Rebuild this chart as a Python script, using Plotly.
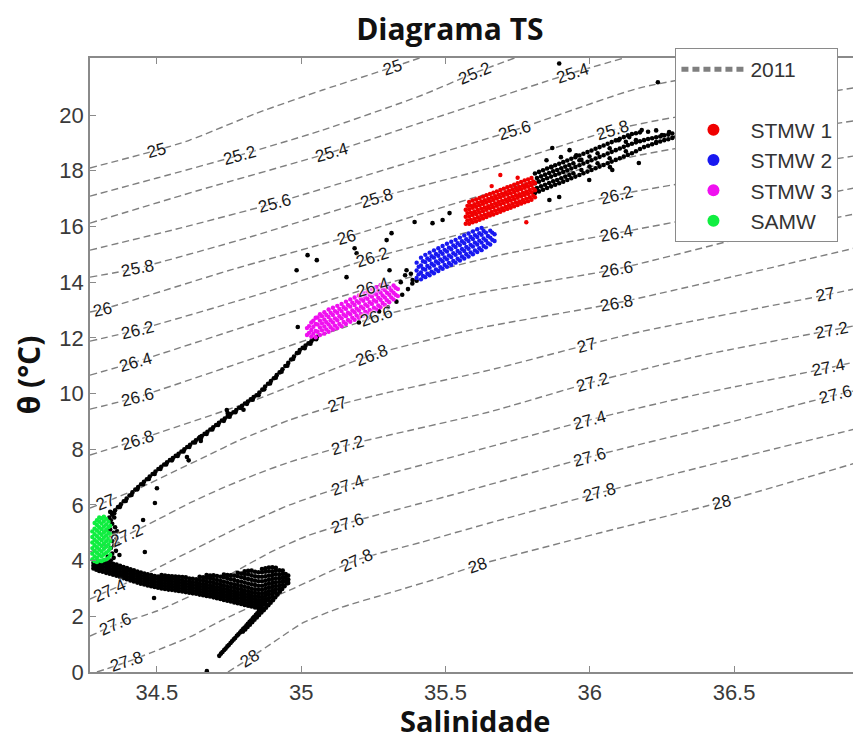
import math
import plotly.graph_objects as go

# ---------------- axes ----------------
x_range = [34.268, 36.933]
y_range = [0.0, 22.05]
x_tickvals = [34.5, 35.0, 35.5, 36.0, 36.5]
x_ticktext = ["34.5", "35", "35.5", "36", "36.5"]
y_tickvals = [0, 2, 4, 6, 8, 10, 12, 14, 16, 18, 20]

# ---------------- isopycnals (S, T) ----------------
iso_25_0 = ([34.268, 34.5, 34.614, 34.846, 35.074, 35.317, 35.410],
            [18.10, 18.74, 19.10, 20.07, 20.90, 21.72, 22.05])
iso_25_2 = ([34.268, 34.5, 34.787, 35.074, 35.420, 35.600, 35.739],
            [17.09, 17.74, 18.56, 19.46, 20.72, 21.51, 22.05])
iso_25_4 = ([34.268, 34.649, 35.106, 35.514, 35.939, 36.119],
            [16.12, 17.31, 18.67, 20.07, 21.51, 22.05])
iso_25_6 = ([34.268, 34.580, 34.908, 35.341, 35.739, 36.171, 36.517, 36.829],
            [15.15, 15.94, 16.84, 18.20, 19.46, 20.97, 21.62, 22.05])
iso_25_8 = ([34.268, 34.431, 34.822, 35.261, 35.687, 36.078, 36.240, 36.933],
            [14.18, 14.50, 15.62, 17.02, 18.20, 19.46, 19.82, 21.01])
iso_26_0 = ([34.268, 34.313, 34.753, 35.157, 35.618, 36.171, 36.933],
            [12.93, 13.03, 14.43, 15.62, 17.09, 18.56, 19.82])
iso_26_2 = ([34.268, 34.431, 34.822, 35.247, 35.687, 36.092, 36.933],
            [11.88, 12.28, 13.46, 14.87, 16.09, 17.13, 18.56])
iso_26_4 = ([34.268, 34.424, 34.822, 35.247, 35.687, 36.092, 36.933],
            [10.66, 11.13, 12.46, 13.82, 14.97, 15.76, 17.41])
iso_26_6 = ([34.268, 34.431, 34.787, 35.261, 35.593, 36.092, 36.611, 36.933],
            [9.44, 9.87, 11.10, 12.75, 13.57, 14.47, 15.80, 16.48])
iso_26_8 = ([34.268, 34.431, 34.822, 35.244, 35.618, 36.092, 36.933],
            [7.79, 8.33, 9.70, 11.38, 12.35, 13.25, 15.26])
iso_27_0 = ([34.268, 34.320, 34.441, 34.555, 34.673, 34.787, 34.960, 35.126, 35.306,
             35.652, 35.988, 36.171, 36.818, 36.933],
            [5.89, 6.10, 6.61, 7.18, 7.76, 8.33, 9.05, 9.59, 10.05,
             10.84, 11.74, 12.21, 13.54, 13.79])
iso_27_2 = ([34.268, 34.396, 34.5, 34.614, 34.728, 34.846, 34.960, 35.161, 35.306,
             35.652, 36.009, 36.379, 36.839, 36.933],
            [4.31, 4.92, 5.46, 6.07, 6.61, 7.11, 7.54, 8.15, 8.51,
             9.34, 10.41, 11.35, 12.28, 12.46])
iso_27_4 = ([34.268, 34.337, 34.441, 34.555, 34.673, 34.787, 34.960, 35.161, 35.548,
             35.998, 36.379, 36.829, 36.933],
            [2.62, 2.94, 3.41, 4.02, 4.63, 5.21, 6.00, 6.71, 7.79,
             9.05, 9.98, 10.92, 11.17])
iso_27_6 = ([34.268, 34.355, 34.5, 34.673, 34.787, 34.901, 35.019, 35.161, 35.548,
             35.998, 36.448, 36.853, 36.933],
            [1.29, 1.69, 2.19, 3.02, 3.70, 4.34, 4.88, 5.35, 6.43,
             7.72, 8.87, 9.95, 10.13])
iso_27_8 = ([34.292, 34.396, 34.476, 34.614, 34.728, 34.846, 34.960, 35.192, 35.420,
             35.652, 36.033, 36.483, 36.933],
            [0.0, 0.36, 0.68, 1.26, 1.87, 2.44, 2.94, 4.02, 4.67,
             5.35, 6.43, 7.61, 8.76])
iso_28_0 = ([34.746, 34.822, 34.915, 35.005, 35.133, 35.306, 35.479, 35.611, 36.033,
             36.455, 36.933],
            [0.0, 0.50, 1.15, 1.76, 2.30, 2.84, 3.38, 3.84, 4.99, 6.10, 7.54])

iso_levels = [25.0, 25.2, 25.4, 25.6, 25.8, 26.0, 26.2, 26.4, 26.6, 26.8,
              27.0, 27.2, 27.4, 27.6, 27.8, 28.0]

# contour labels
label_text = ["25", "25", "25.2", "25.2", "25.4", "25.4", "25.6", "25.6",
              "25.8", "25.8", "25.8", "26", "26", "26.2", "26.2", "26.2",
              "26.4", "26.4", "26.4", "26.6", "26.6", "26.6", "26.8", "26.8", "26.8",
              "27", "27", "27", "27", "27.2", "27.2", "27.2", "27.2",
              "27.4", "27.4", "27.4", "27.4", "27.6", "27.6", "27.6", "27.6",
              "27.8", "27.8", "27.8", "28", "28", "28"]
label_S = [34.5, 35.317, 34.787, 35.600, 35.106, 35.939, 34.908, 35.739,
           34.431, 35.261, 36.078, 34.313, 35.157, 34.431, 35.247, 36.092,
           34.424, 35.247, 36.092, 34.431, 35.261, 36.092, 34.431, 35.244, 36.092,
           34.320, 35.126, 35.988, 36.818, 34.396, 35.161, 36.009, 36.839,
           34.337, 35.161, 35.998, 36.829, 34.355, 35.161, 35.998, 36.853,
           34.396, 35.192, 36.033, 34.822, 35.611, 36.455]
label_T = [18.74, 21.72, 18.56, 21.51, 18.67, 21.51, 16.84, 19.46,
           14.50, 17.02, 19.46, 13.03, 15.62, 12.28, 14.87, 17.13,
           11.13, 13.82, 15.76, 9.87, 12.75, 14.47, 8.33, 11.38, 13.25,
           6.10, 9.59, 11.74, 13.54, 4.92, 8.15, 10.41, 12.28,
           2.94, 6.71, 9.05, 10.92, 1.69, 5.35, 7.72, 9.95,
           0.36, 4.02, 6.43, 0.50, 3.84, 6.10]

# ---------------- black observations ----------------
deep_S = [34.716, 34.722, 34.727, 34.733, 34.738, 34.744, 34.749, 34.755, 34.760, 34.766,
          34.771, 34.777, 34.782, 34.788, 34.793, 34.799, 34.804, 34.810, 34.815, 34.821,
          34.826, 34.832, 34.837, 34.843, 34.848, 34.853, 34.858]
deep_T = [0.58, 0.66, 0.72, 0.79, 0.84, 0.92, 0.97, 1.04, 1.10, 1.17,
          1.22, 1.30, 1.35, 1.42, 1.48, 1.55, 1.60, 1.67, 1.73, 1.80,
          1.85, 1.93, 1.98, 2.05, 2.11, 2.17, 2.23]
deep2_S = [34.798, 34.806, 34.814, 34.822, 34.830, 34.838, 34.846, 34.854, 34.862, 34.870,
           34.878, 34.886, 34.894, 34.902, 34.910, 34.918, 34.926, 34.934, 34.942, 34.950]
deep2_T = [1.45, 1.53, 1.62, 1.70, 1.79, 1.88, 1.96, 2.05, 2.14, 2.22,
           2.31, 2.40, 2.49, 2.58, 2.68, 2.78, 2.88, 2.98, 3.08, 3.18]

band_cols = [
    (34.280, [3.72, 3.82, 3.92]),
    (34.290, [3.67, 3.77, 3.87, 3.97]),
    (34.300, [3.63, 3.73, 3.83, 3.93]),
    (34.312, [3.60, 3.70, 3.80, 3.90]),
    (34.324, [3.56, 3.66, 3.76, 3.86, 3.96]),
    (34.336, [3.53, 3.63, 3.73, 3.83, 3.93]),
    (34.348, [3.49, 3.59, 3.69, 3.79, 3.89]),
    (34.360, [3.46, 3.56, 3.66, 3.76, 3.86]),
    (34.372, [3.41, 3.51, 3.61, 3.71, 3.81]),
    (34.384, [3.37, 3.47, 3.57, 3.67, 3.77]),
    (34.396, [3.33, 3.43, 3.53, 3.63, 3.73]),
    (34.408, [3.29, 3.39, 3.49, 3.59, 3.69]),
    (34.420, [3.25, 3.35, 3.45, 3.55, 3.65]),
    (34.432, [3.21, 3.31, 3.41, 3.51, 3.61]),
    (34.444, [3.17, 3.27, 3.37, 3.47, 3.57]),
    (34.456, [3.14, 3.24, 3.34, 3.44, 3.54]),
    (34.468, [3.11, 3.21, 3.31, 3.41, 3.51]),
    (34.480, [3.08, 3.18, 3.28, 3.38, 3.48]),
    (34.492, [3.05, 3.15, 3.25, 3.35, 3.45]),
    (34.504, [3.03, 3.13, 3.23, 3.33, 3.43]),
    (34.516, [3.00, 3.10, 3.20, 3.30, 3.40, 3.48]),
    (34.528, [2.98, 3.08, 3.18, 3.28, 3.38, 3.46]),
    (34.540, [2.96, 3.06, 3.16, 3.26, 3.36, 3.45]),
    (34.552, [2.95, 3.05, 3.15, 3.25, 3.35, 3.44]),
    (34.564, [2.93, 3.03, 3.13, 3.23, 3.33, 3.43]),
    (34.576, [2.91, 3.01, 3.11, 3.21, 3.31, 3.42]),
    (34.588, [2.89, 2.99, 3.09, 3.19, 3.29, 3.41]),
    (34.600, [2.87, 2.97, 3.07, 3.17, 3.27, 3.40]),
    (34.612, [2.85, 2.95, 3.05, 3.15, 3.25, 3.36]),
    (34.624, [2.83, 2.93, 3.03, 3.13, 3.23, 3.35]),
    (34.636, [2.81, 2.91, 3.01, 3.11, 3.21, 3.33]),
    (34.648, [2.78, 2.88, 2.98, 3.08, 3.18, 3.30, 3.42]),
    (34.660, [2.76, 2.86, 2.96, 3.06, 3.16, 3.28, 3.40]),
    (34.672, [2.73, 2.83, 2.93, 3.03, 3.13, 3.25, 3.38, 3.48]),
    (34.684, [2.71, 2.81, 2.91, 3.01, 3.11, 3.23, 3.36, 3.46]),
    (34.696, [2.68, 2.78, 2.88, 2.98, 3.08, 3.20, 3.34, 3.47]),
    (34.708, [2.65, 2.75, 2.85, 2.95, 3.05, 3.17, 3.30, 3.45]),
    (34.720, [2.62, 2.72, 2.82, 2.92, 3.02, 3.14, 3.27, 3.42]),
    (34.732, [2.59, 2.69, 2.79, 2.89, 2.99, 3.11, 3.24, 3.40, 3.50]),
    (34.744, [2.56, 2.66, 2.76, 2.86, 2.96, 3.08, 3.21, 3.36, 3.48]),
    (34.756, [2.53, 2.63, 2.73, 2.83, 2.93, 3.05, 3.18, 3.33, 3.47]),
    (34.768, [2.50, 2.60, 2.70, 2.80, 2.90, 3.02, 3.15, 3.30, 3.46]),
    (34.780, [2.47, 2.57, 2.67, 2.77, 2.87, 2.99, 3.12, 3.27, 3.44, 3.56]),
    (34.792, [2.44, 2.54, 2.64, 2.74, 2.84, 2.96, 3.09, 3.24, 3.40, 3.54]),
    (34.804, [2.41, 2.51, 2.61, 2.71, 2.81, 2.93, 3.06, 3.21, 3.37, 3.52, 3.62]),
    (34.816, [2.38, 2.48, 2.58, 2.68, 2.78, 2.90, 3.03, 3.18, 3.34, 3.50, 3.63]),
    (34.828, [2.35, 2.45, 2.55, 2.65, 2.75, 2.87, 3.00, 3.15, 3.31, 3.47, 3.64]),
    (34.840, [2.32, 2.42, 2.52, 2.62, 2.72, 2.84, 2.97, 3.12, 3.28, 3.44, 3.60]),
    (34.852, [2.28, 2.38, 2.48, 2.58, 2.70, 2.82, 2.95, 3.10, 3.26, 3.42, 3.58]),
    (34.864, [2.30, 2.40, 2.50, 2.60, 2.70, 2.82, 2.95, 3.10, 3.26, 3.42, 3.58, 3.70]),
    (34.876, [2.42, 2.52, 2.62, 2.74, 2.86, 2.99, 3.13, 3.28, 3.44, 3.60, 3.72]),
    (34.888, [2.56, 2.66, 2.78, 2.90, 3.03, 3.17, 3.31, 3.46, 3.62, 3.75]),
    (34.900, [2.70, 2.82, 2.94, 3.07, 3.20, 3.34, 3.48, 3.62, 3.76]),
    (34.912, [2.84, 2.96, 3.09, 3.22, 3.36, 3.50, 3.64, 3.74]),
    (34.924, [2.98, 3.10, 3.23, 3.37, 3.51, 3.65]),
    (34.936, [3.12, 3.25, 3.38, 3.52, 3.64]),
    (34.946, [3.25, 3.38, 3.52]),
    (34.955, [3.20, 3.32, 3.46]),
]

samw_black_S = [34.340, 34.350, 34.345, 34.358, 34.340, 34.352, 34.345, 34.360, 34.342, 34.350, 34.338,
                34.355, 34.345, 34.340, 34.352, 34.345, 34.338, 34.365, 34.370, 34.362, 34.335, 34.330]
samw_black_T = [4.00, 4.10, 4.25, 4.35, 4.45, 4.55, 4.70, 4.80, 4.90, 5.00, 5.12,
                5.20, 5.32, 5.45, 5.55, 5.65, 5.75, 4.60, 4.20, 5.05, 5.55, 4.15]

thermo_S = [34.345, 34.355, 34.365, 34.375, 34.385, 34.395, 34.405, 34.415, 34.425, 34.435,
            34.445, 34.455, 34.465, 34.475, 34.485, 34.495, 34.505, 34.515, 34.525, 34.535,
            34.545, 34.555, 34.565, 34.575, 34.585, 34.595, 34.605, 34.615, 34.625, 34.635,
            34.645, 34.655, 34.665, 34.675, 34.685, 34.695, 34.705, 34.715, 34.725, 34.735,
            34.745, 34.755, 34.765, 34.775, 34.785, 34.795, 34.805, 34.815, 34.825, 34.835,
            34.845, 34.855, 34.865, 34.875, 34.885, 34.895, 34.905, 34.915, 34.925, 34.935,
            34.945, 34.955, 34.965, 34.975, 34.985, 34.995, 35.005, 35.015, 35.025, 35.035,
            35.045, 35.055]
thermo_T = [5.71, 5.81, 5.92, 6.02, 6.13, 6.23, 6.34, 6.45, 6.55, 6.64,
            6.74, 6.83, 6.92, 7.02, 7.11, 7.20, 7.29, 7.37, 7.45, 7.53,
            7.61, 7.68, 7.76, 7.84, 7.92, 8.00, 8.08, 8.16, 8.24, 8.32,
            8.39, 8.47, 8.55, 8.63, 8.71, 8.79, 8.87, 8.95, 9.03, 9.10,
            9.18, 9.26, 9.33, 9.41, 9.49, 9.56, 9.64, 9.71, 9.79, 9.87,
            9.94, 10.04, 10.14, 10.25, 10.35, 10.45, 10.55, 10.66, 10.76, 10.87,
            10.99, 11.10, 11.22, 11.33, 11.45, 11.56, 11.64, 11.72, 11.80, 11.88,
            11.96, 12.04]
thermo2_S = [34.352, 34.372, 34.392, 34.412, 34.432, 34.452, 34.472, 34.492, 34.512, 34.532,
             34.552, 34.572, 34.592, 34.612, 34.632, 34.652, 34.672, 34.692, 34.712, 34.732,
             34.752, 34.772, 34.792, 34.812, 34.832, 34.852, 34.872, 34.892, 34.912, 34.932,
             34.952, 34.972, 34.992, 35.012, 35.032, 35.052]
thermo2_T = [5.70, 5.93, 6.14, 6.36, 6.56, 6.74, 6.93, 7.11, 7.29, 7.45,
             7.60, 7.76, 7.92, 8.08, 8.24, 8.39, 8.55, 8.71, 8.87, 9.02,
             9.17, 9.33, 9.48, 9.63, 9.78, 9.94, 10.15, 10.36, 10.57, 10.78,
             11.00, 11.24, 11.47, 11.63, 11.79, 11.95]

stray_S = [34.604, 34.610, 34.649, 34.652, 34.742, 34.745, 34.500, 34.493, 34.452, 34.458,
           34.490, 34.673, 34.800]
stray_T = [7.72, 7.60, 8.44, 8.30, 9.41, 9.30, 6.60, 6.07, 5.46, 4.31,
           2.66, 0.03, 9.42]

mid_S = [34.984, 35.022, 35.054, 35.157, 35.185, 35.192, 35.296, 35.313, 35.393, 35.455,
         35.490, 35.514, 34.988, 35.200, 35.240, 35.270, 35.300, 35.330, 35.350, 35.370,
         35.385, 35.400, 35.360, 35.345, 35.380, 35.306, 35.365, 35.386]
mid_T = [14.43, 14.97, 14.79, 14.18, 15.22, 15.04, 15.51, 15.76, 16.16, 16.12,
         16.23, 16.48, 12.39, 12.55, 12.75, 12.95, 13.10, 13.30, 13.55, 13.75,
         13.95, 14.05, 14.25, 14.00, 14.30, 14.43, 14.43, 14.08]

upper_cols = [
    (35.810, [17.20, 17.55, 17.90]), (35.817, [17.38, 17.74]), (35.824, [17.26, 17.61, 17.96]),
    (35.831, [17.44, 17.80]), (35.838, [17.32, 17.67, 18.02]), (35.845, [17.50, 17.86]),
    (35.852, [17.38, 17.73, 18.08]), (35.859, [17.56, 17.92]), (35.866, [17.44, 17.79, 18.14]),
    (35.873, [17.62, 17.98]), (35.880, [17.50, 17.85, 18.20]), (35.887, [17.67, 18.03]),
    (35.894, [17.55, 17.90, 18.25]), (35.901, [17.73, 18.09]), (35.908, [17.61, 17.96, 18.31]),
    (35.915, [17.79, 18.15]), (35.922, [17.67, 18.02, 18.37]), (35.929, [17.85, 18.21]),
    (35.936, [17.73, 18.08, 18.43]), (35.943, [17.91, 18.27]), (35.950, [17.79, 18.14, 18.49]),
    (35.964, [17.85, 18.20, 18.55]), (35.971, [18.03, 18.39]), (35.978, [17.91, 18.26, 18.61]),
    (35.992, [17.97, 18.32, 18.67]), (35.999, [18.15, 18.51]), (36.006, [18.03, 18.38, 18.73]),
    (36.020, [18.09, 18.44, 18.79]), (36.027, [18.27, 18.63]), (36.034, [18.15, 18.50, 18.85]),
    (36.048, [18.21, 18.56, 18.91]), (36.062, [18.27, 18.62, 18.97]), (36.069, [18.45, 18.81]),
    (36.076, [18.33, 18.68, 19.03]), (36.090, [18.39, 18.74, 19.09]), (36.104, [18.45, 18.80, 19.15]),
    (36.118, [18.51, 18.86, 19.21]), (36.125, [18.70, 19.04]), (36.132, [18.57, 18.92, 19.27]),
    (36.146, [18.63, 18.97, 19.32]), (36.160, [18.70, 19.02, 19.35]), (36.174, [18.78, 19.06, 19.38]),
    (36.188, [18.85, 19.10]), (36.202, [18.90, 19.14, 19.40]), (36.216, [18.95, 19.17]),
    (36.230, [19.00, 19.20, 19.45]), (36.244, [19.05, 19.23]), (36.258, [19.10, 19.27]),
    (36.272, [19.13, 19.30]), (36.286, [19.18, 19.34]), (36.300, [19.22]),
]
upper_sparse_S = [35.870, 35.900, 35.930, 35.953, 35.850, 35.867, 35.964, 36.100, 36.137, 36.160,
                  36.180, 36.230, 36.250, 36.275, 36.170, 36.078, 36.070, 35.998, 35.894, 35.860,
                  35.894, 36.236]
upper_sparse_T = [18.82, 18.49, 18.74, 18.56, 18.38, 18.13, 18.38, 19.10, 19.21, 19.10,
                  19.46, 19.03, 19.28, 19.39, 18.28, 18.03, 18.13, 17.67, 17.06, 16.95,
                  21.85, 21.18]

# ---------------- water masses ----------------
stmw1_cols = [
    (35.570, [16.10, 16.35, 16.60]), (35.582, [16.10, 16.36, 16.62, 16.88]),
    (35.594, [16.15, 16.41, 16.67, 16.93]), (35.606, [16.19, 16.45, 16.71, 16.97]),
    (35.618, [16.24, 16.50, 16.76, 17.02]), (35.630, [16.29, 16.55, 16.81, 17.07]),
    (35.642, [16.34, 16.60, 16.86, 17.12]), (35.654, [16.39, 16.65, 16.91, 17.17]),
    (35.666, [16.43, 16.69, 16.95, 17.21]), (35.678, [16.48, 16.74, 17.00, 17.26]),
    (35.690, [16.53, 16.79, 17.05, 17.31]), (35.702, [16.58, 16.84, 17.10, 17.36]),
    (35.714, [16.63, 16.89, 17.15, 17.41]), (35.726, [16.67, 16.93, 17.19, 17.45]),
    (35.738, [16.72, 16.98, 17.24, 17.50]), (35.750, [16.77, 17.03, 17.29, 17.55]),
    (35.762, [16.82, 17.08, 17.34, 17.60]), (35.774, [16.87, 17.13, 17.39, 17.65]),
    (35.786, [16.91, 17.17, 17.43, 17.69]), (35.798, [16.96, 17.22, 17.48, 17.74]),
    (35.810, [17.05, 17.30, 17.55]),
    (35.576, [16.22, 16.48, 16.74]), (35.588, [16.23, 16.49, 16.75]), (35.600, [16.28, 16.54, 16.80]),
    (35.612, [16.33, 16.59, 16.85]), (35.624, [16.38, 16.64, 16.90]), (35.636, [16.42, 16.68, 16.94]),
    (35.648, [16.47, 16.73, 16.99]), (35.660, [16.52, 16.78, 17.04]), (35.672, [16.57, 16.83, 17.09]),
    (35.684, [16.62, 16.88, 17.14]), (35.696, [16.66, 16.92, 17.18]), (35.708, [16.71, 16.97, 17.23]),
    (35.720, [16.76, 17.02, 17.28]), (35.732, [16.81, 17.07, 17.33]), (35.744, [16.86, 17.12, 17.38]),
    (35.756, [16.90, 17.16, 17.42]), (35.768, [16.95, 17.21, 17.47]), (35.780, [17.00, 17.26, 17.52]),
    (35.792, [17.05, 17.31, 17.57]), (35.804, [17.10, 17.36, 17.62]),
    (35.690, [17.85]), (35.750, [17.75]), (35.780, [16.15]), (35.660, [17.45]),
]
stmw2_cols = [
    (35.400, [14.15, 14.42, 14.70]), (35.415, [14.10, 14.35, 14.60, 14.88]),
    (35.430, [14.18, 14.45, 14.72, 14.98]), (35.445, [14.25, 14.52, 14.80, 15.06]),
    (35.460, [14.32, 14.60, 14.88, 15.14]), (35.475, [14.40, 14.68, 14.95, 15.22]),
    (35.490, [14.48, 14.75, 15.02, 15.30]), (35.505, [14.55, 14.82, 15.10, 15.38]),
    (35.520, [14.62, 14.90, 15.18, 15.45]), (35.535, [14.70, 14.98, 15.26, 15.52]),
    (35.550, [14.78, 15.05, 15.33, 15.60]), (35.565, [14.85, 15.12, 15.40, 15.68]),
    (35.580, [14.92, 15.20, 15.48, 15.75]), (35.595, [15.00, 15.28, 15.55, 15.82]),
    (35.610, [15.08, 15.35, 15.62, 15.90]), (35.625, [15.15, 15.42, 15.70, 15.95]),
    (35.640, [15.25, 15.50, 15.78]), (35.655, [15.35, 15.60, 15.85]), (35.670, [15.48, 15.72]),
    (35.407, [14.28, 14.55]), (35.422, [14.22, 14.48, 14.75]), (35.437, [14.30, 14.58, 14.85]),
    (35.452, [14.38, 14.66, 14.93]), (35.467, [14.46, 14.74, 15.01]), (35.482, [14.54, 14.82, 15.09]),
    (35.497, [14.62, 14.89, 15.16]), (35.512, [14.69, 14.96, 15.24]), (35.527, [14.76, 15.04, 15.32]),
    (35.542, [14.84, 15.12, 15.40]), (35.557, [14.92, 15.19, 15.47]), (35.572, [15.00, 15.26, 15.54]),
    (35.587, [15.07, 15.34, 15.62]), (35.602, [15.14, 15.42, 15.69]), (35.617, [15.22, 15.49, 15.76]),
    (35.632, [15.30, 15.57, 15.84]), (35.647, [15.40, 15.66]), (35.662, [15.52, 15.78]),
]
stmw3_cols = [
    (35.020, [12.10, 12.35]), (35.035, [12.05, 12.28, 12.55]), (35.050, [12.02, 12.25, 12.50, 12.72]),
    (35.065, [12.10, 12.37, 12.62, 12.85]), (35.080, [12.15, 12.41, 12.66, 12.92]),
    (35.095, [12.22, 12.48, 12.75, 13.02]), (35.110, [12.30, 12.55, 12.82, 13.08]),
    (35.125, [12.35, 12.63, 12.90, 13.15]), (35.140, [12.42, 12.70, 12.96, 13.22]),
    (35.155, [12.50, 12.78, 13.04, 13.30]), (35.170, [12.58, 12.85, 13.12, 13.38]),
    (35.185, [12.65, 12.92, 13.18, 13.45]), (35.200, [12.72, 12.98, 13.26, 13.52]),
    (35.215, [12.80, 13.06, 13.33, 13.60]), (35.230, [12.88, 13.14, 13.40, 13.66]),
    (35.245, [12.95, 13.22, 13.48, 13.74]), (35.260, [13.02, 13.30, 13.56, 13.82]),
    (35.275, [13.10, 13.37, 13.63, 13.90]), (35.290, [13.18, 13.45, 13.72, 13.95]),
    (35.305, [13.28, 13.55, 13.80]), (35.320, [13.38, 13.62, 13.88]), (35.335, [13.50, 13.75]),
    (35.027, [12.18, 12.42]), (35.042, [12.15, 12.40, 12.62]), (35.057, [12.22, 12.48, 12.73]),
    (35.072, [12.27, 12.52, 12.78]), (35.087, [12.30, 12.56, 12.82]), (35.102, [12.38, 12.63, 12.90]),
    (35.117, [12.44, 12.70, 12.96]), (35.132, [12.50, 12.78, 13.04]), (35.147, [12.57, 12.84, 13.10]),
    (35.162, [12.64, 12.90, 13.18]), (35.177, [12.72, 12.98, 13.26]), (35.192, [12.80, 13.05, 13.32]),
    (35.207, [12.86, 13.12, 13.40]), (35.222, [12.94, 13.20, 13.46]), (35.237, [13.00, 13.28, 13.55]),
    (35.252, [13.08, 13.35, 13.62]), (35.267, [13.16, 13.44, 13.70]), (35.282, [13.25, 13.52, 13.78]),
    (35.297, [13.35, 13.62, 13.86]), (35.312, [13.45, 13.70]), (35.327, [13.55, 13.80]),
]
samw_cols = [
    (34.276, [4.05, 4.25, 4.45, 4.65, 4.85, 5.05]),
    (34.284, [3.98, 4.15, 4.35, 4.55, 4.75, 4.95, 5.15, 5.35]),
    (34.292, [3.95, 4.10, 4.28, 4.48, 4.68, 4.88, 5.08, 5.28, 5.45]),
    (34.300, [4.00, 4.20, 4.40, 4.60, 4.80, 5.00, 5.20, 5.40, 5.55]),
    (34.308, [3.98, 4.15, 4.33, 4.53, 4.73, 4.93, 5.13, 5.33, 5.52]),
    (34.316, [4.02, 4.22, 4.42, 4.62, 4.82, 5.02, 5.22, 5.42, 5.58]),
    (34.324, [4.05, 4.28, 4.50, 4.70, 4.90, 5.10, 5.30, 5.50]),
    (34.332, [4.10, 4.35, 4.58, 4.80, 5.00, 5.20, 5.40]),
    (34.338, [4.20, 4.45, 4.70, 4.95, 5.25]),
]

legend_names = ["STMW 1", "STMW 2", "STMW 3", "SAMW"]
mass_colors = ["#f00000", "#1818f0", "#f010f0", "#10ee40"]


def flatten(cols):
    xs, ys = [], []
    for s, ts in cols:
        for t in ts:
            xs.append(s)
            ys.append(t)
    return xs, ys


fig = go.Figure()

iso_data = [iso_25_0, iso_25_2, iso_25_4, iso_25_6, iso_25_8, iso_26_0, iso_26_2, iso_26_4,
            iso_26_6, iso_26_8, iso_27_0, iso_27_2, iso_27_4, iso_27_6, iso_27_8, iso_28_0]
for i, (lev, (ss, tt)) in enumerate(zip(iso_levels, iso_data)):
    fig.add_trace(go.Scatter(
        x=ss, y=tt, mode="lines", name="2011",
        line=dict(color="#7f7f7f", width=1.4, dash="7px,4px", shape="spline", smoothing=0.6),
        showlegend=(i == 0), hoverinfo="skip", legendgroup="iso"))

# blank legend row
fig.add_trace(go.Scatter(x=[None], y=[None], mode="markers", name="\u00a0",
                         marker=dict(color="rgba(0,0,0,0)", size=4), showlegend=True))

bx, by = [], []
for xs, ys in [(deep_S, deep_T), (deep2_S, deep2_T), flatten(band_cols),
               (samw_black_S, samw_black_T), (thermo_S, thermo_T), (thermo2_S, thermo2_T),
               (stray_S, stray_T), (mid_S, mid_T), flatten(upper_cols),
               (upper_sparse_S, upper_sparse_T)]:
    bx += list(xs)
    by += list(ys)
fig.add_trace(go.Scatter(x=bx, y=by, mode="markers", showlegend=False,
                         marker=dict(color="black", size=4.6, line=dict(width=0))))

for name, color, cols in zip(legend_names, mass_colors,
                             [stmw1_cols, stmw2_cols, stmw3_cols, samw_cols]):
    xs, ys = flatten(cols)
    fig.add_trace(go.Scatter(x=xs, y=ys, mode="markers", name=name,
                             marker=dict(color=color, size=4.4, line=dict(width=0))))

# contour labels rotated along the isopycnals
plot_w, plot_h = 771.0, 614.0
kx = plot_w / (x_range[1] - x_range[0])
ky = plot_h / (y_range[1] - y_range[0])
level_lookup = {lev: d for lev, d in zip(iso_levels, iso_data)}
annotations = []
for txt, s, t in zip(label_text, label_S, label_T):
    ss, tt = level_lookup[float(txt)]
    j = 0
    while j < len(ss) - 2 and ss[j + 1] < s:
        j += 1
    slope = (tt[j + 1] - tt[j]) / (ss[j + 1] - ss[j])
    ang = -math.degrees(math.atan(slope * ky / kx))
    annotations.append(dict(
        x=s, y=t, xref="x", yref="y", text=txt, showarrow=False, textangle=ang,
        font=dict(family="Liberation Sans, Arial, sans-serif", size=17, color="#1a1a1a",
                  shadow="0px 0px 2px white, 0px 0px 2px white, 0px 0px 3px white")))

axis_title_font = dict(family="Open Sans, sans-serif", size=30, color="#111111", weight="bold")
annotations.append(dict(text="Salinidade", x=0.5, y=-0.0798, xref="paper", yref="paper",
                        xanchor="center", yanchor="middle", showarrow=False,
                        font=dict(family="Open Sans, sans-serif", size=29, color="#111111",
                                  weight="bold")))
annotations.append(dict(text="θ (°C)", x=-0.080, y=0.484, xref="paper", yref="paper",
                        xanchor="center", yanchor="middle", showarrow=False, textangle=-90,
                        font=axis_title_font))

axis_common = dict(showgrid=False, zeroline=False, showline=True, linecolor="#8a8a8a",
                   linewidth=1.5, mirror="ticks", ticks="inside", ticklen=6,
                   tickcolor="#8a8a8a", tickwidth=1,
                   tickfont=dict(family="Liberation Sans, Arial, sans-serif", size=22,
                                 color="#3a3a3a"))

# the page body adds an 8 px offset, so the figure is 8 px smaller than the window
fig.update_layout(
    width=853, height=734,
    margin=dict(l=82, r=0, t=50, b=70),
    paper_bgcolor="white", plot_bgcolor="white",
    title=dict(text="Diagrama TS", x=0.518, xref="container", xanchor="center",
               y=0.9714, yref="container", yanchor="middle",
               font=dict(family="Open Sans, sans-serif", size=30, color="#111111",
                         weight="bold")),
    xaxis=dict(range=x_range, tickvals=x_tickvals, ticktext=x_ticktext, **axis_common),
    yaxis=dict(range=y_range, tickvals=y_tickvals, **axis_common),
    legend=dict(x=0.7613, y=1.0163, xanchor="left", yanchor="top", bgcolor="white",
                bordercolor="#8a8a8a", borderwidth=1, itemsizing="constant", itemwidth=64,
                traceorder="normal",
                font=dict(family="Liberation Sans, Arial, sans-serif", size=21, color="#333333")),
    annotations=annotations,
    showlegend=True,
)

fig.write_html("out.html")
